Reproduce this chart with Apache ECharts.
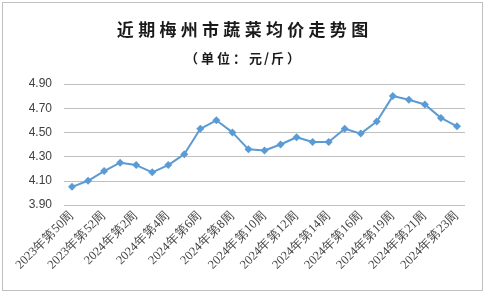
<!DOCTYPE html>
<html>
<head>
<meta charset="utf-8">
<script src="https://cdn.jsdelivr.net/npm/echarts@6/dist/echarts.min.js"></script>
<style>
    html, body { margin: 0; padding: 0; background: #fff; }
    #wrap { position: absolute; left: 2px; top: 2px; width: 479px; height: 287px; border: 1px solid #bfbfbf; }
    #chart { width: 485px; height: 293px; position: absolute; left: 0; top: 0; }
</style>
</head>
<body>
<div id="wrap"></div>
<div id="chart"></div>
<script>
    // 周次
    let weeks = [
        '2023年第50周', '2023年第51周', '2023年第52周',
        '2024年第1周', '2024年第2周', '2024年第3周', '2024年第4周', '2024年第5周',
        '2024年第6周', '2024年第7周', '2024年第8周', '2024年第9周', '2024年第10周',
        '2024年第11周', '2024年第12周', '2024年第13周', '2024年第14周', '2024年第15周',
        '2024年第16周', '2024年第17周', '2024年第19周', '2024年第20周', '2024年第21周',
        '2024年第22周', '2024年第23周'
    ]
    // 蔬菜均价（元/斤）
    let prices = [
        4.05, 4.10, 4.18, 4.25, 4.23, 4.17, 4.23, 4.32, 4.53, 4.60,
        4.50, 4.36, 4.35, 4.40, 4.46, 4.42, 4.42, 4.53, 4.49, 4.59,
        4.80, 4.77, 4.73, 4.62, 4.55
    ]
    let titleText = '近期梅州市蔬菜均价走势图'
    let unitText = '（单位：元/斤）'

    // 每个字单独占一格，模拟原图的字距（半角字符用窄格）
    function spaced(str) {
        return str.split('').map(function (c) {
            return (c.charCodeAt(0) < 128 ? '{h|' : '{c|') + c + '}'
        }).join('')
    }

    function cell(w, size) {
        return {
            width: w,
            align: 'center',
            fontFamily: 'Noto Sans CJK SC',
            fontSize: size,
            fontWeight: 'bold',
            color: '#1a1a1a'
        }
    }

    let myChart = echarts.init(document.getElementById('chart'))
    let option = {
        animation: false,
        title: [{
            text: spaced(titleText),
            left: 'center',
            top: 16,
            textStyle: {
                rich: { c: cell(21.3, 17), h: cell(8, 17) }
            }
        }, {
            text: spaced(unitText),
            left: 'center',
            top: 47,
            textStyle: {
                rich: { c: cell(16, 13), h: cell(6, 13) }
            }
        }],
        grid: {
            left: 64,
            right: 20,
            top: 84,
            bottom: 88
        },
        xAxis: {
            type: 'category',
            data: weeks,
            boundaryGap: true,
            axisLine: { show: false },
            axisTick: { show: false },
            axisLabel: {
                interval: 1,
                rotate: 45,
                margin: 8,
                fontSize: 12.5,
                fontFamily: 'Liberation Serif',
                color: '#404040'
            }
        },
        yAxis: {
            type: 'value',
            min: 3.9,
            max: 4.9,
            interval: 0.2,
            axisLine: { show: false },
            axisTick: { show: false },
            axisLabel: {
                margin: 12,
                fontSize: 12,
                fontFamily: 'Liberation Sans',
                color: '#404040',
                formatter: function (v) { return v.toFixed(2) }
            },
            splitLine: {
                lineStyle: { color: '#bfbfbf', width: 1 }
            }
        },
        series: [{
            type: 'line',
            data: prices,
            symbol: 'diamond',
            symbolSize: 8,
            itemStyle: { color: '#5b9bd5' },
            lineStyle: { color: '#5b9bd5', width: 2 }
        }]
    }
    myChart.setOption(option)
</script>
</body>
</html>
